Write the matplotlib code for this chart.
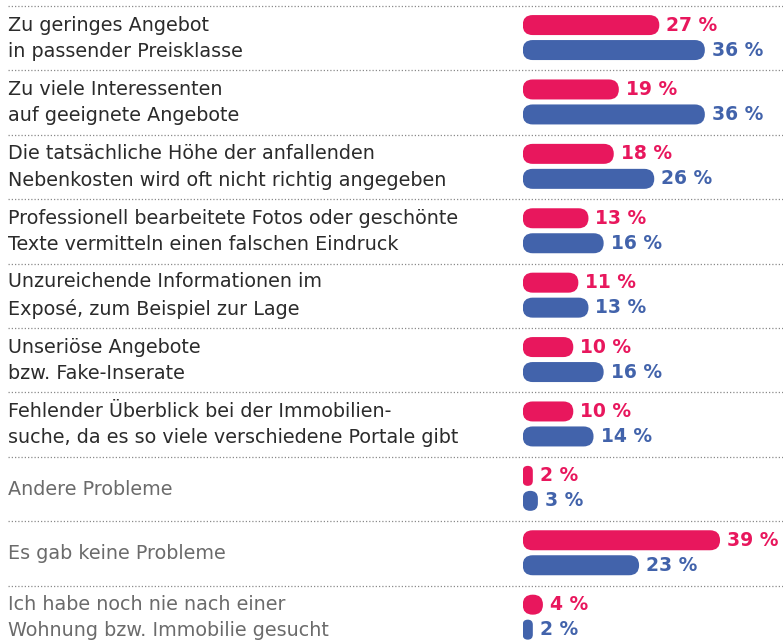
import matplotlib
matplotlib.use("Agg")
import matplotlib.pyplot as plt
from matplotlib.patches import FancyBboxPatch

categories = [
    "Zu geringes Angebot\nin passender Preisklasse",
    "Zu viele Interessenten\nauf geeignete Angebote",
    "Die tatsächliche Höhe der anfallenden\nNebenkosten wird oft nicht richtig angegeben",
    "Professionell bearbeitete Fotos oder geschönte\nTexte vermitteln einen falschen Eindruck",
    "Unzureichende Informationen im\nExposé, zum Beispiel zur Lage",
    "Unseriöse Angebote\nbzw. Fake-Inserate",
    "Fehlender Überblick bei der Immobilien-\nsuche, da es so viele verschiedene Portale gibt",
    "Andere Probleme",
    "Es gab keine Probleme",
    "Ich habe noch nie nach einer\nWohnung bzw. Immobilie gesucht",
]
series_pink = [27, 19, 18, 13, 11, 10, 10, 2, 39, 4]
series_blue = [36, 36, 26, 16, 13, 16, 14, 3, 23, 2]
label_dark = [True] * 7 + [False] * 3

PINK = "#E8175D"
BLUE = "#4263AB"
W, H = 783, 640
DPI = 100

fig = plt.figure(figsize=(W / DPI, H / DPI), dpi=DPI)
fig.patch.set_facecolor("white")

row_px = 64.4
top_px = 6.0
ylim = ((H - top_px) / row_px, -top_px / row_px)

# background axes for labels & separators
bg = fig.add_axes([0, 0, 1, 1])
bg.set_xlim(0, W)
bg.set_ylim(*ylim)
bg.axis("off")

n = len(categories)
for i in range(n + 1):
    bg.plot([8, W], [i, i], color="#8a8a8a", lw=0.9, linestyle=(0, (1, 1.6)),
            solid_capstyle="butt")

for i, lab in enumerate(categories):
    bg.text(8, i + 0.50, lab, ha="left", va="center", fontsize=13.8,
            family="DejaVu Sans", color="#2b2b2b" if label_dark[i] else "#6b6b6b",
            linespacing=1.48)

# bar axes
x0_px = 522.7
px_per_pct = 5.06
ax = fig.add_axes([x0_px / W, 0, (W - x0_px) / W, 1])
ax.set_xlim(0, (W - x0_px) / px_per_pct)
ax.set_ylim(*ylim)
ax.axis("off")

bar_h_px = 20.0
bar_h = bar_h_px / row_px
sx, sy = px_per_pct, row_px
off = 0.194
center = 0.49

for i in range(n):
    for vals, col, d in ((series_pink, PINK, -off), (series_blue, BLUE, off)):
        v = vals[i]
        yc = i + center + d
        w_px = v * px_per_pct
        r_px = min(w_px, bar_h_px) / 2
        patch = FancyBboxPatch((0, yc - bar_h / 2), v, bar_h,
                               boxstyle=f"round,pad=0,rounding_size={r_px / sx}",
                               mutation_aspect=sx / sy, fc=col, ec="none")
        ax.add_patch(patch)
        ax.annotate(f"{v} %", (v, yc), xytext=(7, 0), textcoords="offset pixels",
                    ha="left", va="center", fontsize=13.5, fontweight="bold",
                    family="DejaVu Sans", color=col, annotation_clip=False)

fig.savefig("out.png", dpi=DPI)
